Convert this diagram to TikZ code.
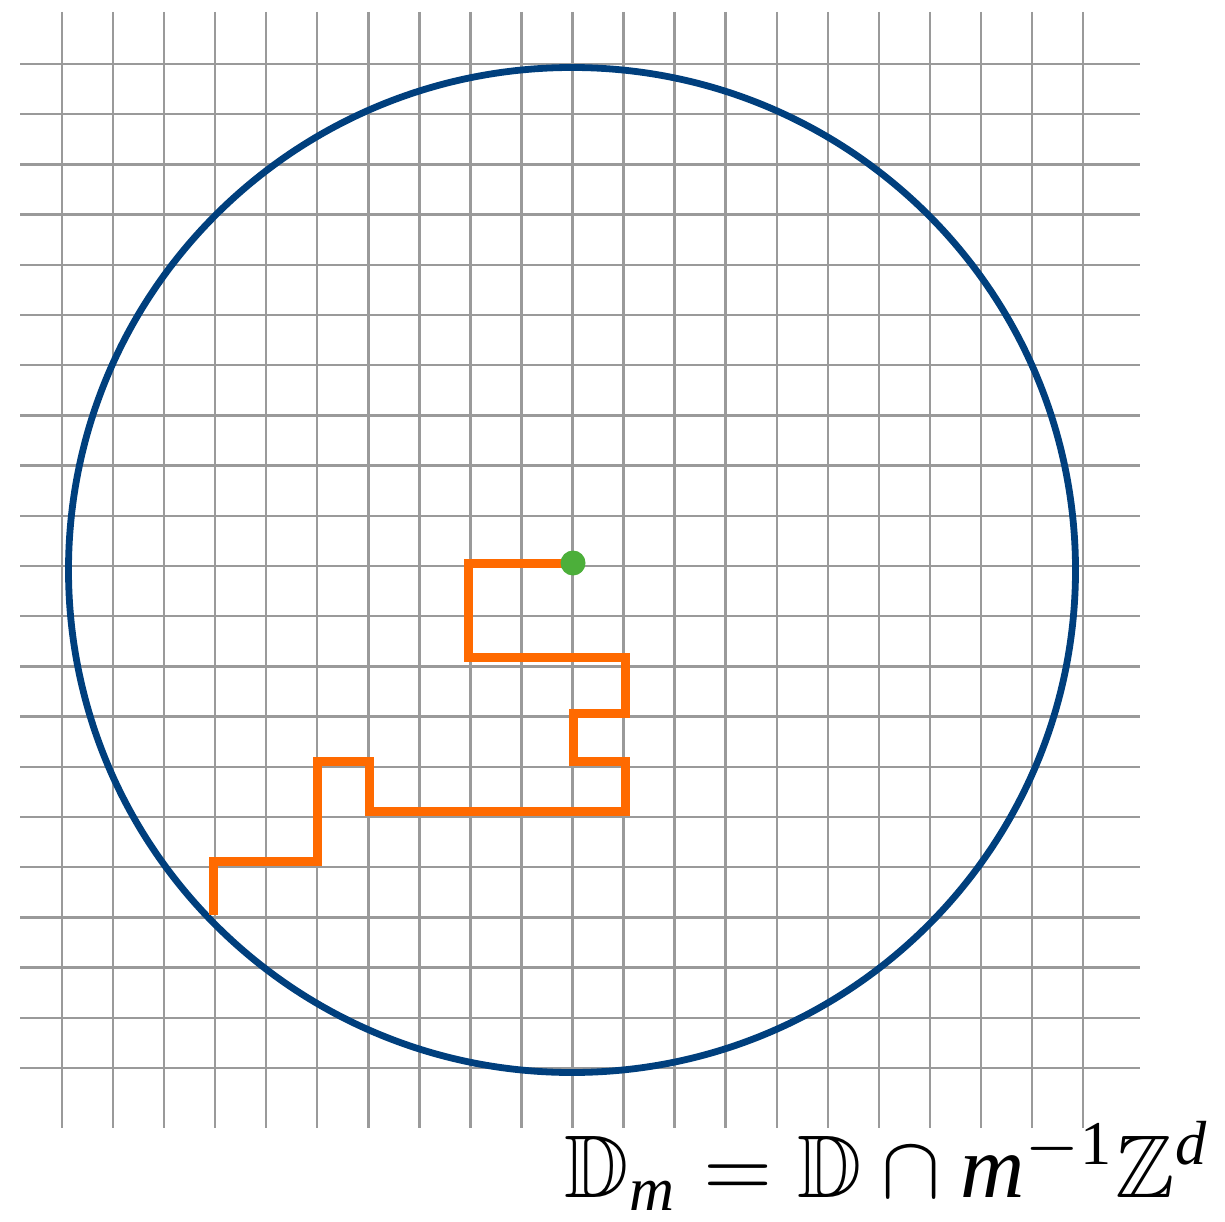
\documentclass[tikz,border=0pt]{standalone}
\usepackage{amsmath,amssymb}
\usepackage{fontspec}
\setmainfont{Liberation Serif}
\definecolor{gridgray}{HTML}{9A9A9A}
\definecolor{circblue}{HTML}{003F7D}
\definecolor{walkorange}{HTML}{FF6A00}
\definecolor{dotgreen}{HTML}{4CAF3A}
\begin{document}
\begin{tikzpicture}[x=1pt,y=-1pt,
  gridline/.style={draw=gridgray,line width=2.4pt},
  boundary/.style={draw=circblue,line width=6.8pt},
  walk/.style={draw=walkorange,line width=9pt,line join=miter},
  origin/.style={fill=dotgreen}]
\useasboundingbox (0,0) rectangle (1225,1222);
\foreach \i in {0,...,20}{
  \draw[gridline] ({62+51.05*\i},12) -- ({62+51.05*\i},1128);
  \draw[gridline] (20,{64+50.2*\i}) -- (1140,{64+50.2*\i});
}
\draw[boundary] (572,570) ellipse [x radius=503.5, y radius=502.5];
\draw[walk] (573,563) -- (468,563) -- (468,657) -- (625,657) -- (625,713) -- (573,713) -- (573,761) -- (625,761) -- (625,811) -- (369,811) -- (369,761) -- (317,761) -- (317,861) -- (213,861) -- (213,915);
\fill[origin] (573,563) circle [radius=12.5];
\node[anchor=base west,inner sep=0pt,scale=8.9] (label) at (563,1197) {$\mathbb{D}_{\textit{m}} = \mathbb{D}\cap \textit{m}^{-\text{1}}\mathbb{Z}^{\textit{d}}$};
\end{tikzpicture}
\end{document}
